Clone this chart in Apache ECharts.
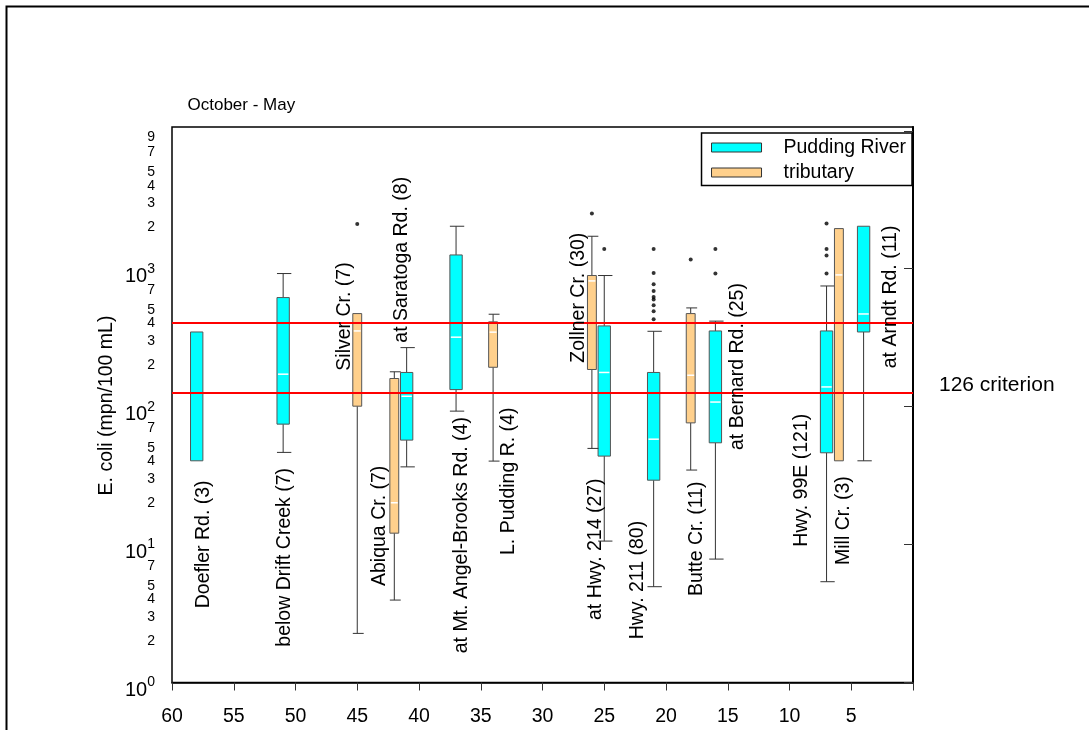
<!DOCTYPE html>
<html>
<head>
<meta charset="utf-8">
<script src="https://cdn.jsdelivr.net/npm/echarts@6/dist/echarts.min.js"></script>
<style>html,body{margin:0;padding:0;background:#fff;}#c{width:1089px;height:730px;}</style>
</head>
<body>
<div id="c"></div>
<script>
// ---- data (river mile position, whisker low, Q1, median, Q3, whisker high) ----
const puddingNames = ['Doefler Rd. (3)', 'below Drift Creek (7)', 'at Saratoga Rd. (8)', 'at Mt. Angel-Brooks Rd. (4)', 'at Hwy. 214 (27)', 'Hwy. 211 (80)', 'at Bernard Rd. (25)', 'Hwy. 99E (121)', 'at Arndt Rd. (11)'];
const puddingBoxes = [
  [58, null, 40.5, 348, 348, null],
  [51, 46.6, 74.7, 172, 618, 923],
  [41, 36.6, 57.2, 119, 177, 268],
  [37, 92.8, 133, 319, 1259, 2033],
  [25, 10.6, 43.8, 177, 385, 893],
  [21, 4.95, 29.3, 58.1, 177, 352],
  [16, 7.85, 54.7, 108, 354, 417],
  [7, 5.38, 46.3, 139, 354, 750],
  [4, 40.5, 348, 470, 2033, null]
];
const puddingOutliers = [
  [25, 1391],
  [21, 1391], [21, 933], [21, 772], [21, 690], [21, 625], [21, 598], [21, 544], [21, 492], [21, 431],
  [16, 1391], [16, 923],
  [7, 2126], [7, 1391], [7, 1247], [7, 923]
];
const tribNames = ['Silver Cr. (7)', 'Abiqua Cr. (7)', 'L. Pudding R. (4)', 'Zollner Cr. (30)', 'Butte Cr. (11)', 'Mill Cr. (3)'];
const tribBoxes = [
  [45, 2.27, 100.8, 354, 473, null],
  [42, 3.96, 12.1, 20.1, 160, 179],
  [34, 40.3, 193, 347, 412, 468],
  [26, 49.8, 186, 816, 893, 1720],
  [18, 34.7, 76.3, 169, 473, 520],
  [6, null, 40.5, 902, 1955, null]
];
const tribOutliers = [[45, 2112], [26, 2512], [18, 1166]];
const criteria = [126, 406];
const yTickValues = [1, 10, 100, 1000, 10000];
const yLabelValues = [1, 2, 3, 4, 5, 7, 10, 20, 30, 40, 50, 70, 100, 200, 300, 400, 500, 700, 1000, 2000, 3000, 4000, 5000, 7000, 9000];

// ---- layout / style ----
const FONT = "'Liberation Sans', Arial, Helvetica, sans-serif";
const CYAN = '#00FFFF';
const TAN = '#FFD08C';
// label anchors (pixel: x centre of text, y of text start), text reads bottom-to-top
const labelLayout = {
  'Doefler Rd. (3)': [203.3, 608.3],
  'below Drift Creek (7)': [284.3, 646.7],
  'Silver Cr. (7)': [345, 370.7],
  'Abiqua Cr. (7)': [380, 586],
  'at Saratoga Rd. (8)': [402, 342.7],
  'at Mt. Angel-Brooks Rd. (4)': [461.7, 653.3],
  'L. Pudding R. (4)': [508.3, 555],
  'Zollner Cr. (30)': [579, 362.7],
  'at Hwy. 214 (27)': [596, 620],
  'Hwy. 211 (80)': [637.7, 639.3],
  'Butte Cr. (11)': [696.7, 596],
  'at Bernard Rd. (25)': [737.3, 450],
  'Hwy. 99E (121)': [801.7, 546.7],
  'Mill Cr. (3)': [843.3, 565],
  'at Arndt Rd. (11)': [890.7, 368.3]
};

function makeRender(widthUnits, fill) {
  return function (params, api) {
    const x = api.value(0);
    const lo = api.value(1), q1 = api.value(2), med = api.value(3), q3 = api.value(4), hi = api.value(5);
    const pq1 = api.coord([x, q1]);
    const cx = pq1[0];
    const xa = api.coord([x - widthUnits / 2, q1])[0];
    const xb = api.coord([x + widthUnits / 2, q1])[0];
    const w = Math.abs(xa - xb);
    const yq1 = pq1[1];
    const yq3 = api.coord([x, q3])[1];
    const ch = [];
    const ws = { stroke: '#333', lineWidth: 1 };
    if (hi != null && !isNaN(hi) && hi > q3) {
      const yh = api.coord([x, hi])[1];
      ch.push({ type: 'line', shape: { x1: cx, y1: yq3, x2: cx, y2: yh }, style: ws });
      ch.push({ type: 'line', shape: { x1: cx - w / 2, y1: yh, x2: cx + w / 2 + 2, y2: yh }, style: ws });
    }
    if (lo != null && !isNaN(lo) && lo < q1) {
      const yl = api.coord([x, lo])[1];
      ch.push({ type: 'line', shape: { x1: cx, y1: yq1, x2: cx, y2: yl }, style: ws });
      ch.push({ type: 'line', shape: { x1: cx - w / 2, y1: yl, x2: cx + w / 2 + 2, y2: yl }, style: ws });
    }
    ch.push({ type: 'rect', shape: { x: cx - w / 2, y: yq3, width: w, height: yq1 - yq3 }, style: { fill: fill, stroke: '#555', lineWidth: 1 } });
    if (med > q1 && med < q3) {
      const ym = api.coord([x, med])[1];
      ch.push({ type: 'line', shape: { x1: cx - w / 2 + 1, y1: ym, x2: cx + w / 2 - 1, y2: ym }, style: { stroke: '#fff', lineWidth: 1.5 } });
    }
    return { type: 'group', children: ch };
  };
}

const graphics = [
  { type: 'rect', silent: true, z: 0, shape: { x: 6.5, y: 6.5, width: 1300, height: 1000 }, style: { fill: 'none', stroke: '#000', lineWidth: 2 } },
  { type: 'text', silent: true, x: 187.5, y: 105.5, style: { text: 'October - May', fontSize: 17, fontFamily: FONT, fill: '#000', align: 'left', verticalAlign: 'middle' } },
  { type: 'text', silent: true, x: 939, y: 385, style: { text: '126 criterion', fontSize: 21, fontFamily: FONT, fill: '#000', align: 'left', verticalAlign: 'middle' } },
  { type: 'text', silent: true, x: 106.7, y: 405.5, rotation: Math.PI / 2, style: { text: 'E. coli (mpn/100 mL)', fontSize: 19.5, fontFamily: FONT, fill: '#000', align: 'center', verticalAlign: 'middle' } }
];
puddingNames.concat(tribNames).forEach(function (n) {
  const p = labelLayout[n];
  graphics.push({ type: 'text', silent: true, z: 50, x: p[0], y: p[1], rotation: Math.PI / 2, style: { text: n, fontSize: 19.5, fontFamily: FONT, fill: '#000', align: 'left', verticalAlign: 'middle' } });
});

const chart = echarts.init(document.getElementById('c'), null, { renderer: 'canvas' });
chart.setOption({
  animation: false,
  backgroundColor: '#fff',
  textStyle: { fontFamily: FONT },
  grid: { left: 172, right: 176, top: 127, bottom: 47.5, show: true, borderColor: '#000', borderWidth: 1.5, backgroundColor: 'transparent' },
  legend: {
    orient: 'vertical', right: 177, top: 133,
    padding: [4.5, 6, 3, 9.5], itemGap: 5, itemWidth: 50, itemHeight: 9,
    backgroundColor: '#fff', borderColor: '#000', borderWidth: 1.5, borderRadius: 0,
    icon: 'rect', selectedMode: false,
    textStyle: { fontSize: 19.5, fontFamily: FONT, color: '#000', lineHeight: 20, padding: [0, 0, 0, 17] },
    data: [
      { name: 'Pudding River', itemStyle: { color: CYAN, borderColor: '#333', borderWidth: 1 } },
      { name: 'tributary', itemStyle: { color: TAN, borderColor: '#333', borderWidth: 1 } }
    ]
  },
  xAxis: {
    type: 'value', min: 0, max: 60, interval: 5, inverse: true,
    axisLine: { show: true, lineStyle: { color: '#000', width: 1.5 } },
    axisTick: { show: true, length: 8, lineStyle: { color: '#333' } },
    axisLabel: { fontSize: 19.5, fontFamily: FONT, color: '#000', margin: 24, formatter: function (v) { return v === 0 ? '' : String(v); } },
    splitLine: { show: false }
  },
  yAxis: {
    type: 'log', logBase: 10, min: 1, max: 10660,
    axisLine: { show: true, lineStyle: { color: '#000', width: 2 } },
    axisTick: { show: true, length: 9, lineStyle: { color: '#333' }, customValues: yTickValues },
    minorTick: { show: false },
    splitLine: { show: false },
    axisLabel: {
      customValues: yLabelValues, margin: 17, color: '#000', fontSize: 14, fontFamily: FONT,
      formatter: function (v) {
        const e = Math.round(Math.log10(v));
        if (Math.abs(v - Math.pow(10, e)) < 1e-6 * v) return '{b|10}{s|' + e + '}';
        return String(Math.round(v / Math.pow(10, Math.floor(Math.log10(v) + 1e-9))));
      },
      rich: {
        b: { fontSize: 20, lineHeight: 20, padding: [15, 0, 0, 0], fontFamily: FONT, color: '#000' },
        s: { fontSize: 14, lineHeight: 14, padding: [10.5, 0, 10.5, 0], fontFamily: FONT, color: '#000' }
      }
    }
  },
  graphic: graphics,
  series: [
    {
      name: 'criteria', type: 'scatter', data: [], z: 1, silent: true,
      markLine: { silent: true, symbol: ['none', 'none'], label: { show: false }, lineStyle: { color: '#FF0000', width: 2, type: 'solid' }, data: criteria.map(function (v) { return { yAxis: v }; }) }
    },
    {
      name: 'Pudding River', type: 'custom', z: 3, data: puddingBoxes,
      encode: { x: 0, y: [1, 2, 3, 4, 5] },
      itemStyle: { color: CYAN, borderColor: '#333' },
      renderItem: makeRender(1.0, CYAN)
    },
    {
      name: 'tributary', type: 'custom', z: 3, data: tribBoxes,
      encode: { x: 0, y: [1, 2, 3, 4, 5] },
      itemStyle: { color: TAN, borderColor: '#333' },
      renderItem: makeRender(0.72, TAN)
    },
    { name: 'Pudding River outliers', type: 'scatter', z: 4, symbol: 'circle', symbolSize: 4, itemStyle: { color: '#000' }, data: puddingOutliers },
    { name: 'tributary outliers', type: 'scatter', z: 4, symbol: 'circle', symbolSize: 4, itemStyle: { color: '#000' }, data: tribOutliers }
  ]
});
</script>
</body>
</html>
